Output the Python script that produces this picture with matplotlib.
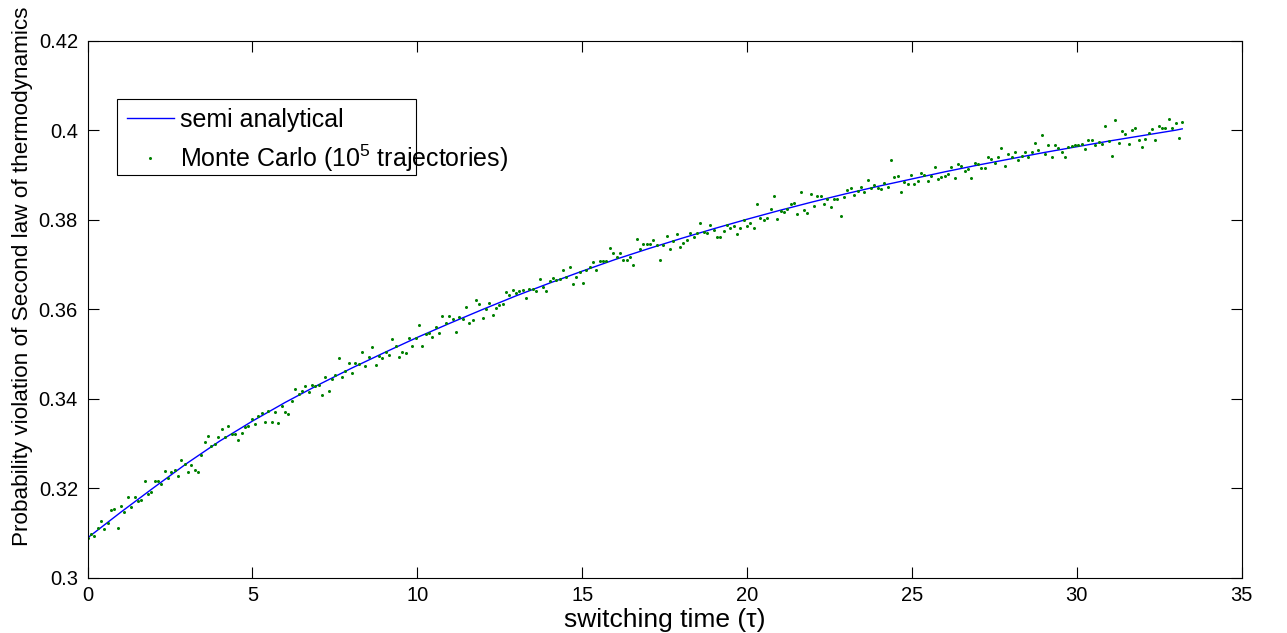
import numpy as np
import matplotlib
matplotlib.use("Agg")
import matplotlib.pyplot as plt
from matplotlib.patches import Rectangle
from matplotlib.ticker import FormatStrFormatter

plt.rcParams['font.family'] = ['Liberation Sans', 'DejaVu Sans']
plt.rcParams['mathtext.fontset'] = 'custom'
plt.rcParams['mathtext.rm'] = 'Liberation Sans'
plt.rcParams['mathtext.it'] = 'Liberation Sans:italic'

# semi analytical curve
tau_curve = [0, 1, 2, 3, 4, 5, 6, 7, 8, 9, 10, 11, 12, 13, 14, 15, 16,
             17, 18, 19, 20, 21, 22, 23, 24, 25, 26, 27, 28, 29, 30, 31,
             32, 33, 33.2]
p_curve = [0.3089, 0.3146, 0.3201, 0.3255, 0.3305, 0.3350, 0.3392, 0.3431,
           0.3468, 0.3503, 0.3537, 0.3569, 0.3600, 0.3630, 0.3658, 0.3685,
           0.3711, 0.3735, 0.3758, 0.3780, 0.3801, 0.3821, 0.3840, 0.3858,
           0.3875, 0.3891, 0.3907, 0.3922, 0.3936, 0.3950, 0.3963, 0.3976,
           0.3988, 0.4000, 0.4003]

# Monte Carlo points (evenly spaced in switching time)
tau_mc_start = 0.0
tau_mc_end = 33.2
p_mc = [
    0.3089, 0.3097, 0.3093, 0.3110, 0.3127, 0.3108, 0.3122, 0.3151, 0.3153,
    0.3111, 0.3161, 0.3146, 0.3180, 0.3158, 0.3180, 0.3171, 0.3174, 0.3216,
    0.3187, 0.3191, 0.3216, 0.3215, 0.3210,
    0.3238, 0.3222, 0.3236, 0.3241, 0.3228, 0.3262, 0.3253, 0.3236,
    0.3252, 0.3240, 0.3236, 0.3274, 0.3304, 0.3316, 0.3295, 0.3299, 0.3315,
    0.3333, 0.3315, 0.3339, 0.3320, 0.3321, 0.3308, 0.3323, 0.3336, 0.3340,
    0.3355, 0.3344, 0.3361, 0.3369, 0.3349, 0.3373, 0.3349, 0.3370, 0.3346,
    0.3384, 0.3370, 0.3366, 0.3395,
    0.3421, 0.3410, 0.3417, 0.3428, 0.3415, 0.3430, 0.3428, 0.3430, 0.3409,
    0.3448, 0.3418, 0.3445, 0.3454, 0.3490, 0.3449, 0.3461, 0.3479, 0.3457,
    0.3480, 0.3477, 0.3504, 0.3472, 0.3493, 0.3516, 0.3476, 0.3495, 0.3490,
    0.3504, 0.3497, 0.3533, 0.3518, 0.3494, 0.3505,
    0.3503, 0.3535, 0.3518, 0.3535, 0.3564, 0.3518, 0.3545, 0.3547, 0.3537,
    0.3560, 0.3546, 0.3584, 0.3569, 0.3584, 0.3577, 0.3548, 0.3582, 0.3577,
    0.3604, 0.3570, 0.3575, 0.3620, 0.3612, 0.3581, 0.3601, 0.3614, 0.3586,
    0.3602, 0.3609, 0.3612, 0.3638, 0.3632,
    0.3642, 0.3636, 0.3641, 0.3642, 0.3625, 0.3646, 0.3646, 0.3641, 0.3667,
    0.3650, 0.3640, 0.3664, 0.3670, 0.3665, 0.3667, 0.3688, 0.3673, 0.3695,
    0.3656, 0.3671, 0.3683, 0.3658, 0.3688, 0.3695, 0.3706, 0.3688, 0.3708,
    0.3708, 0.3708, 0.3736, 0.3725,
    0.3717, 0.3725, 0.3709, 0.3710, 0.3717, 0.3699, 0.3756, 0.3735, 0.3745,
    0.3745, 0.3745, 0.3755, 0.3744, 0.3709, 0.3743, 0.3764, 0.3734, 0.3752,
    0.3768, 0.3738, 0.3749, 0.3755, 0.3770, 0.3761, 0.3770, 0.3792, 0.3773,
    0.3770, 0.3789, 0.3777, 0.3761,
    0.3761, 0.3775, 0.3788, 0.3781, 0.3786, 0.3768, 0.3781, 0.3800, 0.3787,
    0.3792, 0.3781, 0.3834, 0.3803, 0.3800, 0.3803, 0.3825, 0.3853, 0.3802,
    0.3819, 0.3817, 0.3823, 0.3834, 0.3837, 0.3813, 0.3862, 0.3821, 0.3816,
    0.3858, 0.3830, 0.3853, 0.3853, 0.3835,
    0.3847, 0.3828, 0.3846, 0.3846, 0.3809, 0.3850, 0.3867, 0.3871, 0.3855,
    0.3864, 0.3872, 0.3861, 0.3889, 0.3871, 0.3878, 0.3870, 0.3868, 0.3882,
    0.3873, 0.3933, 0.3896, 0.3897, 0.3863, 0.3884, 0.3880, 0.3900, 0.3880,
    0.3886, 0.3904, 0.3900, 0.3886,
    0.3898, 0.3918, 0.3891, 0.3895, 0.3897, 0.3902, 0.3918, 0.3894, 0.3925,
    0.3920, 0.3908, 0.3913, 0.3893, 0.3927, 0.3925, 0.3915, 0.3915, 0.3941,
    0.3936, 0.3926, 0.3939, 0.3960, 0.3919, 0.3946, 0.3939, 0.3951, 0.3934,
    0.3943, 0.3951, 0.3939, 0.3951, 0.3971,
    0.3956, 0.3990, 0.3947, 0.3968, 0.3940, 0.3968, 0.3960, 0.3951, 0.3939,
    0.3962, 0.3964, 0.3967, 0.3967, 0.3969, 0.3957, 0.3978, 0.3977, 0.3966,
    0.3974, 0.3970, 0.4009, 0.3975, 0.3943, 0.4022, 0.3971, 0.3998, 0.3992,
    0.3969, 0.4001, 0.4004, 0.3978,
    0.3963, 0.3980, 0.3994, 0.4003, 0.3977, 0.4010, 0.4006, 0.4004, 0.4026,
    0.4004, 0.4017, 0.3982, 0.4018,
]
tau_mc = np.linspace(tau_mc_start, tau_mc_end, len(p_mc))

xticks = [0, 5, 10, 15, 20, 25, 30, 35]
yticks = [0.3, 0.32, 0.34, 0.36, 0.38, 0.4, 0.42]

fig = plt.figure(figsize=(12.87, 6.33), dpi=100)
ax = fig.add_axes([0.0681, 0.0874, 0.8966, 0.8483])

ax.plot(tau_curve, p_curve, color=(0, 0, 1), lw=1.0, label='semi analytical')
ax.plot(tau_mc, p_mc, ls='none', marker='o', ms=2.2, mew=0,
        color=(0, 0.5, 0), label='Monte Carlo (10$^5$ trajectories)')

ax.set_xlim(0, 35)
ax.set_ylim(0.3, 0.42)
ax.set_xticks(xticks)
ax.set_yticks(yticks)
ax.yaxis.set_major_formatter(FormatStrFormatter('%g'))
ax.tick_params(direction='in', length=8, width=0.8, top=True, right=True,
               labelsize=14.5, colors='black')
ax.tick_params(axis='y', pad=7)
ax.tick_params(axis='x', pad=6)
for s in ax.spines.values():
    s.set_linewidth(0.8)

ax.set_xlabel('switching time (τ)', fontsize=19, labelpad=2)
ax.set_ylabel('Probability violation of Second law of thermodynamics',
              fontsize=16.2)
ax.yaxis.set_label_coords(-0.0474, 0.561)

# MATLAB-style legend: text runs past the fixed box
leg = ax.legend(loc='upper left', bbox_to_anchor=(0.0338, 0.875),
                borderaxespad=0, borderpad=0, fontsize=18, frameon=False,
                handlelength=1.9, handletextpad=0.25, labelspacing=0.43,
                numpoints=1, markerscale=1.0)
ax.add_patch(Rectangle((0.0251, 0.7499), 0.2594, 0.1415,
                       transform=ax.transAxes, fill=True, facecolor='white',
                       edgecolor='black', lw=0.8, zorder=4))
leg.set_zorder(5)

fig.savefig('out.png', dpi=100)
